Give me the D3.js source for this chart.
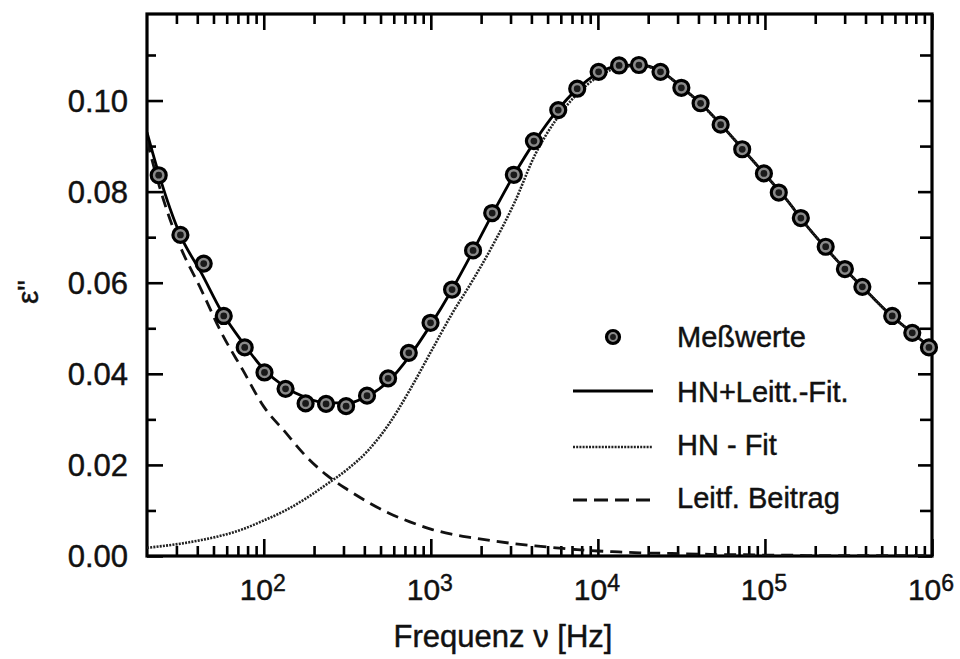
<!DOCTYPE html>
<html><head><meta charset="utf-8">
<script src="https://cdn.jsdelivr.net/npm/d3@7"></script>
<style>body{margin:0;background:#fff} text{stroke:#111;stroke-width:0.45px}</style>
</head><body><svg id="c" width="960" height="659"></svg>
<script>
// Measured points (frequency in Hz, epsilon'')
const dataFreq = [23.5, 31.7, 43.7, 57.6, 76.9, 101, 135, 178, 236, 311, 415, 555, 738, 996, 1340, 1790, 2330, 3140, 4140, 5790, 7520, 10100, 13400, 17600, 23700, 31600, 41200, 54300, 73100, 98600, 121000, 164000, 231000, 301000, 383000, 578000, 762000, 959000];
const dataEps = [0.0836, 0.0705, 0.0642, 0.0527, 0.0458, 0.0403, 0.0367, 0.0335, 0.0334, 0.0329, 0.0352, 0.0390, 0.0446, 0.0512, 0.0585, 0.0671, 0.0753, 0.0837, 0.0911, 0.0979, 0.1026, 0.1063, 0.1077, 0.1078, 0.1063, 0.1028, 0.0994, 0.0947, 0.0893, 0.0840, 0.0798, 0.0742, 0.0679, 0.0630, 0.0591, 0.0527, 0.0490, 0.0458];

// Fit curves
const fitFreq = [20, 23.7, 31.6, 42.2, 56.2, 75, 100, 133, 178, 237, 316, 422, 562, 750, 1000, 1330, 1780, 2370, 3160, 4220, 5620, 7500, 10000, 13300, 17800, 23700, 31600, 42200, 56200, 75000, 100000, 133000, 178000, 237000, 316000, 422000, 562000, 750000, 1000000];
const fitTotal = [0.0930, 0.0835, 0.0705, 0.0622, 0.0535, 0.0468, 0.0410, 0.0372, 0.0348, 0.0336, 0.0336, 0.0352, 0.0385, 0.0440, 0.0508, 0.0583, 0.0668, 0.0755, 0.0838, 0.0912, 0.0975, 0.1025, 0.1060, 0.1076, 0.1078, 0.1065, 0.1030, 0.0990, 0.0942, 0.0890, 0.0838, 0.0785, 0.0725, 0.0672, 0.0622, 0.0575, 0.0530, 0.0492, 0.0455];
const fitHN = [0.0018, 0.0021, 0.0027, 0.0035, 0.0045, 0.0059, 0.0078, 0.0099, 0.0126, 0.0157, 0.0190, 0.0232, 0.0290, 0.0365, 0.0448, 0.0530, 0.0605, 0.0685, 0.0775, 0.0882, 0.0958, 0.1014, 0.1052, 0.1072, 0.1076, 0.1064, 0.1029, 0.0989, 0.0942, 0.0890, 0.0838, 0.0785, 0.0725, 0.0672, 0.0622, 0.0575, 0.0530, 0.0492, 0.0455];
const fitCond = [0.0912, 0.0812, 0.0680, 0.0585, 0.0488, 0.0408, 0.0328, 0.0274, 0.0220, 0.0178, 0.0146, 0.0118, 0.0094, 0.0075, 0.0059, 0.0048, 0.0040, 0.0033, 0.0027, 0.0022, 0.0018, 0.0014, 0.0011, 0.0009, 0.0007, 0.0006, 0.0005, 0.0004, 0.0003, 0.0003, 0.0002, 0.0002, 0.0001, 0.0001, 0.0001, 0.0001, 0.0001, 0.0001, 0.0001];

const yMajor = [0, 0.02, 0.04, 0.06, 0.08, 0.10];
const yTickLabels = ["0.00", "0.02", "0.04", "0.06", "0.08", "0.10"];
const yMinor = [0.01, 0.03, 0.05, 0.07, 0.09, 0.11];
const xDecades = [2, 3, 4, 5, 6];
const legendLabels = ["Meßwerte", "HN+Leitt.-Fit.", "HN - Fit", "Leitf. Beitrag"];
const xTitle = "Frequenz ν [Hz]";
const yTitle = "ε\"";

const FONT = "'Liberation Sans', Arial, Helvetica, sans-serif";
const L = 147, R = 932, T = 14, B = 556;
const svg = d3.select("#c");
const x = d3.scaleLog().domain([20, 1e6]).range([L, R]);
const y = d3.scaleLinear().domain([0, 0.119]).range([B, T]);

const xMajor = xDecades.map(d => Math.pow(10, d));
const xMinor = [];
[1, 2, 3, 4, 5].forEach(d => { for (let m = 2; m <= 9; m++) { const v = m * Math.pow(10, d); if (v > 20 && v < 1e6) xMinor.push(v); } });

function styleAxis(g) {
  g.select(".domain").remove();
  g.selectAll("line").attr("stroke", "#000").attr("stroke-width", 2.6);
  g.selectAll("text").remove();
}
// bottom
svg.append("g").attr("transform", `translate(0,${B})`).call(d3.axisBottom(x).tickValues(xMajor).tickSizeInner(-17).tickSizeOuter(0).tickFormat("")).call(styleAxis);
svg.append("g").attr("transform", `translate(0,${B})`).call(d3.axisBottom(x).tickValues(xMinor).tickSizeInner(-10).tickSizeOuter(0).tickFormat("")).call(styleAxis);
// top
svg.append("g").attr("transform", `translate(0,${T})`).call(d3.axisTop(x).tickValues(xMajor).tickSizeInner(-16).tickSizeOuter(0).tickFormat("")).call(styleAxis);
svg.append("g").attr("transform", `translate(0,${T})`).call(d3.axisTop(x).tickValues(xMinor).tickSizeInner(-10).tickSizeOuter(0).tickFormat("")).call(styleAxis);
// left
svg.append("g").attr("transform", `translate(${L},0)`).call(d3.axisLeft(y).tickValues(yMajor).tickSizeInner(-16).tickSizeOuter(0).tickFormat("")).call(styleAxis);
svg.append("g").attr("transform", `translate(${L},0)`).call(d3.axisLeft(y).tickValues(yMinor).tickSizeInner(-9).tickSizeOuter(0).tickFormat("")).call(styleAxis);
// right
svg.append("g").attr("transform", `translate(${R},0)`).call(d3.axisRight(y).tickValues(yMajor).tickSizeInner(-14).tickSizeOuter(0).tickFormat("")).call(styleAxis);
svg.append("g").attr("transform", `translate(${R},0)`).call(d3.axisRight(y).tickValues(yMinor).tickSizeInner(-12).tickSizeOuter(0).tickFormat("")).call(styleAxis);

// frame
svg.append("rect").attr("x", L).attr("y", T).attr("width", R - L).attr("height", B - T)
  .attr("fill", "none").attr("stroke", "#000").attr("stroke-width", 3.2);

// y tick labels
svg.append("g").selectAll("text").data(yMajor).join("text")
  .attr("x", 128).attr("y", d => y(d) + 11)
  .attr("text-anchor", "end").attr("font-family", FONT).attr("font-size", 31).attr("fill", "#111")
  .text((d, i) => yTickLabels[i]);

// x tick labels
const xl = svg.append("g").selectAll("text").data(xDecades).join("text")
  .attr("x", d => x(Math.pow(10, d)) - 1).attr("y", 600)
  .attr("text-anchor", "middle").attr("font-family", FONT).attr("font-size", 30).attr("fill", "#111");
xl.append("tspan").text("10");
xl.append("tspan").attr("dy", -9).attr("font-size", 23).text(d => d);

// axis titles
svg.append("text").attr("x", 503).attr("y", 647).attr("text-anchor", "middle")
  .attr("font-family", FONT).attr("font-size", 31).attr("fill", "#111").text(xTitle);
svg.append("text").attr("transform", "translate(38,292) rotate(-90)").attr("text-anchor", "middle")
  .attr("font-family", FONT).attr("font-size", 30).attr("fill", "#111").text(yTitle);

// curves
svg.append("clipPath").attr("id", "pc").append("rect").attr("x", L).attr("y", T).attr("width", R - L).attr("height", B - T);
const line = vals => d3.line().x((d, i) => x(fitFreq[i])).y((d, i) => y(vals[i])).curve(d3.curveMonotoneX)(vals);
const plot = svg.append("g").attr("clip-path", "url(#pc)");
plot.append("path").attr("d", line(fitCond)).attr("fill", "none").attr("stroke", "#111").attr("stroke-width", 2.8).attr("stroke-dasharray", "12,7");
plot.append("path").attr("d", line(fitTotal)).attr("fill", "none").attr("stroke", "#000").attr("stroke-width", 2.8);
plot.append("path").attr("d", line(fitHN)).attr("fill", "none").attr("stroke", "#222").attr("stroke-width", 2.6).attr("stroke-dasharray", "2,1.2");

// markers
function marker(g, cx, cy, r) {
  g.append("circle").attr("cx", cx).attr("cy", cy).attr("r", r).attr("fill", "#8a8a8a").attr("stroke", "#000").attr("stroke-width", 3.2);
  g.append("circle").attr("cx", cx).attr("cy", cy).attr("r", r * 0.45).attr("fill", "#1a1a1a");
}
const mg = svg.append("g");
dataFreq.forEach((f, i) => marker(mg, x(f), y(dataEps[i]), 7.5));

// legend
const lg = svg.append("g");
marker(lg, 613, 337, 6.5);
lg.append("line").attr("x1", 573).attr("x2", 653).attr("y1", 391).attr("y2", 391).attr("stroke", "#000").attr("stroke-width", 2.8);
lg.append("line").attr("x1", 573).attr("x2", 653).attr("y1", 447).attr("y2", 447).attr("stroke", "#222").attr("stroke-width", 2.6).attr("stroke-dasharray", "2,1.2");
lg.append("line").attr("x1", 573).attr("x2", 653).attr("y1", 500).attr("y2", 500).attr("stroke", "#111").attr("stroke-width", 2.8).attr("stroke-dasharray", "14,7");
const ly = [347, 402, 455, 508];
lg.selectAll("text").data(legendLabels).join("text")
  .attr("x", 677).attr("y", (d, i) => ly[i])
  .attr("font-family", FONT).attr("font-size", 29).attr("fill", "#111").text(d => d);
</script>
</body></html>
